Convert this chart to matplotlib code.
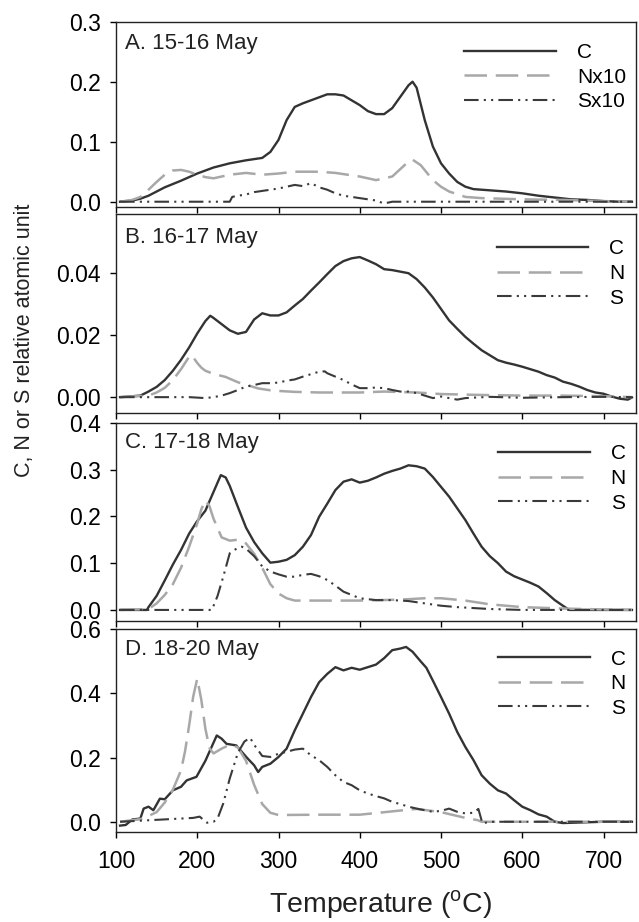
import matplotlib.pyplot as plt

plt.rcParams['font.family'] = ['Liberation Sans', 'DejaVu Sans']
plt.rcParams['mathtext.fontset'] = 'custom'
plt.rcParams['mathtext.rm'] = 'Liberation Sans'

# ---- Panel A: 15-16 May (N and S multiplied by 10) ----
A_T_C = [105, 120, 130, 140, 150, 160, 180, 200, 220, 240, 260, 280, 290, 300, 310, 320, 330, 350, 360, 370,
         380, 390, 400, 410, 420, 430, 440, 450, 460, 465, 470, 480, 490, 500, 510, 520, 530, 540, 560, 580,
         600, 620, 640, 660, 680, 700, 720, 735]
A_C = [0, 0.002, 0.005, 0.01, 0.017, 0.024, 0.035, 0.047, 0.057, 0.064, 0.069, 0.073, 0.083, 0.103, 0.136,
       0.158, 0.164, 0.174, 0.179, 0.179, 0.177, 0.169, 0.161, 0.151, 0.146, 0.146, 0.156, 0.175, 0.194, 0.2,
       0.19, 0.136, 0.092, 0.064, 0.047, 0.033, 0.025, 0.021, 0.019, 0.017, 0.014, 0.010, 0.007, 0.004, 0.003,
       0.001, 0, 0]
A_T_N = [105, 120, 130, 140, 150, 160, 170, 180, 190, 200, 210, 220, 240, 260, 280, 300, 320, 350, 370, 400,
         420, 440, 460, 465, 475, 490, 500, 510, 530, 550, 600, 650, 700, 735]
A_N = [0, 0.003, 0.008, 0.02, 0.033, 0.045, 0.052, 0.053, 0.05, 0.045, 0.041, 0.039, 0.045, 0.048, 0.045,
       0.047, 0.05, 0.05, 0.048, 0.042, 0.036, 0.042, 0.067, 0.07, 0.061, 0.036, 0.025, 0.017, 0.008, 0.006,
       0.004, 0.003, 0.001, 0]
A_T_S = [105, 240, 243, 250, 260, 270, 280, 290, 300, 310, 320, 330, 340, 350, 360, 370, 380, 390, 400, 410,
         420, 430, 440, 450, 735]
A_S = [0, 0, 0.008, 0.01, 0.012, 0.016, 0.018, 0.02, 0.022, 0.025, 0.028, 0.026, 0.031, 0.024, 0.02, 0.014,
       0.01, 0.008, 0.006, 0.004, 0.002, -0.003, 0, 0, 0]

# ---- Panel B: 16-17 May ----
B_T_C = [105, 130, 140, 150, 160, 170, 180, 190, 200, 210, 216, 220, 230, 240, 250, 260, 270, 280, 290, 300,
         310, 320, 330, 340, 350, 360, 370, 380, 390, 400, 410, 420, 430, 440, 450, 460, 470, 480, 490, 500,
         510, 520, 530, 540, 550, 560, 570, 580, 590, 600, 610, 620, 630, 640, 650, 660, 670, 680, 690, 700,
         710, 720, 730, 735]
B_C = [0, 0.0005, 0.0018, 0.0033, 0.0055, 0.0085, 0.012, 0.016, 0.0205, 0.0245, 0.0262, 0.0255, 0.0235,
       0.0215, 0.0204, 0.021, 0.025, 0.027, 0.0263, 0.0263, 0.0273, 0.0295, 0.0316, 0.0343, 0.0369, 0.0396,
       0.0422, 0.0438, 0.0447, 0.0451, 0.044, 0.0428, 0.0412, 0.0409, 0.0404, 0.0399, 0.038, 0.0353, 0.0321,
       0.0284, 0.0247, 0.022, 0.0194, 0.0172, 0.0151, 0.0135, 0.0119, 0.0111, 0.0105, 0.0098, 0.009, 0.0082,
       0.0071, 0.0063, 0.005, 0.0043, 0.0034, 0.0023, 0.0015, 0.0011, 0.0002, -0.0005, -0.0008, -0.0001]
B_T_N = [105, 140, 150, 160, 170, 180, 190, 193, 200, 205, 210, 220, 235, 250, 260, 275, 290, 300, 320, 350,
         400, 430, 470, 500, 550, 600, 650, 700, 735]
B_N = [0, 0.0005, 0.0015, 0.003, 0.0055, 0.009, 0.013, 0.0136, 0.011, 0.0095, 0.0085, 0.0075, 0.0065, 0.0048,
       0.004, 0.0028, 0.0022, 0.002, 0.0017, 0.0015, 0.0015, 0.0018, 0.0015, 0.001, 0.0007, 0.0005, 0.0005,
       0.0003, 0]
B_T_S = [105, 190, 210, 220, 230, 240, 250, 260, 270, 280, 290, 300, 310, 320, 330, 340, 350, 357, 360, 370,
         380, 390, 400, 410, 420, 430, 440, 450, 460, 470, 480, 490, 500, 510, 520, 530, 560, 600, 650, 700, 735]
B_S = [0, 0, -0.0003, 0, 0.0005, 0.0013, 0.0023, 0.0034, 0.0039, 0.0045, 0.0045, 0.0047, 0.0053, 0.0057,
       0.0066, 0.0074, 0.0082, 0.0083, 0.0077, 0.0066, 0.0055, 0.0041, 0.0029, 0.0029, 0.0031, 0.0029, 0.0023,
       0.0018, 0.0018, 0.0013, 0.0005, -0.0003, 0.0002, -0.0003, -0.0008, -0.0003, 0.0001, -0.0002, 0, 0.0001, 0]

# ---- Panel C: 17-18 May ----
C_T_C = [105, 138, 140, 150, 160, 170, 180, 190, 200, 210, 220, 229, 235, 240, 250, 260, 270, 280, 290, 300,
         310, 320, 330, 340, 350, 360, 370, 380, 390, 400, 410, 420, 430, 440, 450, 460, 470, 480, 490, 500,
         510, 520, 530, 540, 550, 560, 570, 580, 590, 600, 610, 620, 630, 640, 650, 658, 735]
C_C = [0, 0, 0.006, 0.03, 0.063, 0.097, 0.128, 0.163, 0.19, 0.212, 0.252, 0.288, 0.283, 0.265, 0.22, 0.176,
       0.145, 0.121, 0.101, 0.103, 0.107, 0.117, 0.135, 0.16, 0.199, 0.227, 0.256, 0.274, 0.279, 0.272, 0.276,
       0.283, 0.291, 0.297, 0.302, 0.309, 0.307, 0.302, 0.284, 0.263, 0.242, 0.217, 0.192, 0.163, 0.135, 0.115,
       0.1, 0.082, 0.072, 0.065, 0.058, 0.05, 0.036, 0.021, 0.009, 0, 0]
C_T_N = [105, 140, 150, 160, 170, 180, 190, 200, 205, 210, 215, 220, 230, 240, 250, 260, 270, 280, 290, 300,
         310, 320, 350, 400, 450, 480, 500, 530, 560, 600, 650, 700, 735]
C_N = [0, 0.002, 0.014, 0.032, 0.055, 0.09, 0.135, 0.185, 0.215, 0.234, 0.222, 0.195, 0.155, 0.148, 0.15,
       0.142, 0.12, 0.09, 0.055, 0.035, 0.025, 0.02, 0.02, 0.02, 0.022, 0.025, 0.025, 0.02, 0.012, 0.006, 0.003,
       0.001, 0]
C_T_S = [105, 218, 225, 232, 240, 250, 255, 260, 270, 280, 290, 300, 310, 320, 330, 340, 350, 360, 370, 380,
         390, 400, 420, 440, 460, 480, 500, 520, 540, 560, 600, 735]
C_S = [0, 0, 0.03, 0.071, 0.121, 0.133, 0.135, 0.131, 0.115, 0.093, 0.082, 0.076, 0.071, 0.071, 0.075, 0.077,
       0.072, 0.064, 0.052, 0.039, 0.032, 0.025, 0.021, 0.021, 0.019, 0.014, 0.009, 0.006, 0.004, 0.002, 0, 0]

# ---- Panel D: 18-20 May ----
D_T_C = [105, 112, 120, 130, 134, 140, 146, 154, 160, 170, 180, 187, 199, 210, 224, 230, 236, 248, 261, 270,
         275, 280, 290, 300, 310, 320, 330, 340, 350, 360, 370, 380, 390, 400, 410, 420, 430, 440, 450, 457,
         465, 475, 482, 490, 500, 510, 520, 530, 540, 550, 560, 570, 580, 590, 600, 610, 620, 630, 640, 650,
         700, 735]
D_C = [-0.012, -0.01, 0.007, 0.01, 0.041, 0.047, 0.036, 0.072, 0.07, 0.098, 0.109, 0.129, 0.14, 0.19, 0.269,
       0.259, 0.243, 0.238, 0.2, 0.176, 0.155, 0.171, 0.181, 0.202, 0.228, 0.285, 0.337, 0.389, 0.435, 0.461,
       0.482, 0.472, 0.48, 0.474, 0.482, 0.49, 0.51, 0.535, 0.54, 0.545, 0.53, 0.5, 0.48, 0.44, 0.389, 0.337,
       0.28, 0.233, 0.192, 0.145, 0.119, 0.098, 0.088, 0.067, 0.047, 0.036, 0.023, 0.016, 0, -0.004, 0, 0]
D_T_N = [105, 130, 140, 150, 160, 170, 180, 185, 190, 195, 200, 205, 210, 215, 220, 230, 240, 250, 260, 270,
         280, 290, 300, 350, 400, 450, 470, 500, 530, 545, 550, 735]
D_N = [0, 0.008, 0.018, 0.03, 0.06, 0.1, 0.16, 0.22, 0.3, 0.39, 0.446, 0.38, 0.29, 0.23, 0.213, 0.228, 0.24,
       0.232, 0.19, 0.115, 0.055, 0.028, 0.021, 0.022, 0.022, 0.035, 0.04, 0.03, 0.012, 0.005, 0, 0]
D_T_S = [105, 195, 203, 208, 212, 220, 225, 232, 240, 250, 258, 265, 270, 280, 290, 300, 310, 320, 330, 340,
         350, 360, 370, 380, 390, 400, 410, 420, 430, 440, 450, 460, 470, 480, 490, 500, 510, 520, 530, 540,
         546, 551, 560, 735]
D_S = [0, 0.012, 0.016, 0.005, -0.003, 0, 0.01, 0.057, 0.135, 0.215, 0.25, 0.262, 0.24, 0.205, 0.202, 0.212,
       0.218, 0.225, 0.228, 0.207, 0.192, 0.171, 0.145, 0.124, 0.114, 0.098, 0.088, 0.08, 0.073, 0.062, 0.055,
       0.047, 0.041, 0.036, 0.031, 0.034, 0.041, 0.031, 0.026, 0.028, 0.04, -0.005, 0, 0]

PANEL_TITLES = ['A. 15-16 May', 'B. 16-17 May', 'C. 17-18 May', 'D. 18-20 May']
LEGEND_LABELS = [['C', 'Nx10', 'Sx10'], ['C', 'N', 'S'], ['C', 'N', 'S'], ['C', 'N', 'S']]
Y_TICKS = [[0.0, 0.1, 0.2, 0.3], [0.0, 0.02, 0.04], [0.0, 0.1, 0.2, 0.3, 0.4], [0.0, 0.2, 0.4, 0.6]]
Y_FMT = ['%.1f', '%.2f', '%.1f', '%.1f']
Y_LIMS = [(-0.0093, 0.3), (-0.0052, 0.0588), (-0.023, 0.4), (-0.031, 0.6)]
X_TICKS = [100, 200, 300, 400, 500, 600, 700]

series = [
    [(A_T_C, A_C), (A_T_N, A_N), (A_T_S, A_S)],
    [(B_T_C, B_C), (B_T_N, B_N), (B_T_S, B_S)],
    [(C_T_C, C_C), (C_T_N, C_N), (C_T_S, C_S)],
    [(D_T_C, D_C), (D_T_N, D_N), (D_T_S, D_S)],
]

# estilos de linea: C solida, N rayada gris, S raya-punto-punto
styles = [
    dict(color='#333333', lw=1.7),
    dict(color='#a8a8a8', lw=1.8, dashes=(9, 3.5)),
    dict(color='#3a3a3a', lw=1.5, dashes=(7, 2.5, 1, 2.5, 1, 2.5)),
]

W_PX, H_PX = 639, 922
fig = plt.figure(figsize=(W_PX / 100, H_PX / 100), dpi=100)

left, right = 116, 636
boxes = [(21.7, 207.3), (214.5, 413.3), (422.7, 620.7), (629.3, 831.7)]
legend_anchor = [(0.67, 0.885), (0.732, 0.875), (0.735, 0.89), (0.735, 0.90)]

for i, (top, bot) in enumerate(boxes):
    ax = fig.add_axes([left / W_PX, 1 - bot / H_PX, (right - left) / W_PX, (bot - top) / H_PX])
    for (t, v), st, lab in zip(series[i], styles, LEGEND_LABELS[i]):
        ax.plot(t, v, label=lab, **st)
    ax.set_xlim(100, 740)
    ax.set_ylim(*Y_LIMS[i])
    ax.set_xticks(X_TICKS)
    ax.set_yticks(Y_TICKS[i])
    ax.set_yticklabels([Y_FMT[i] % y for y in Y_TICKS[i]])
    ax.tick_params(direction='out', length=4, width=1, labelsize=16.5, pad=7)
    ax.tick_params(axis='x', pad=9)
    if i < 3:
        ax.tick_params(labelbottom=False)
    for s in ax.spines.values():
        s.set_linewidth(1.0)
        s.set_color('#222222')
    ax.text(0.017, 0.885 if i < 2 else 0.9, PANEL_TITLES[i], transform=ax.transAxes,
            fontsize=16, va='center', ha='left', color='#222222')
    ax.legend(loc='upper left', bbox_to_anchor=legend_anchor[i], frameon=False, fontsize=15,
              handlelength=4.4, handletextpad=1.0, labelspacing=0.27, borderpad=0, borderaxespad=0)

fig.text(381 / W_PX, 1 - 905 / H_PX, r'Temperature ($^{\mathrm{o}}$C)', fontsize=20.5,
         ha='center', va='center', color='#222222')
fig.text(25 / W_PX, 1 - 340 / H_PX, 'C, N or S relative atomic unit', fontsize=15.5,
         rotation=90, ha='center', va='center', color='#222222')

fig.savefig('out.png', dpi=100)
